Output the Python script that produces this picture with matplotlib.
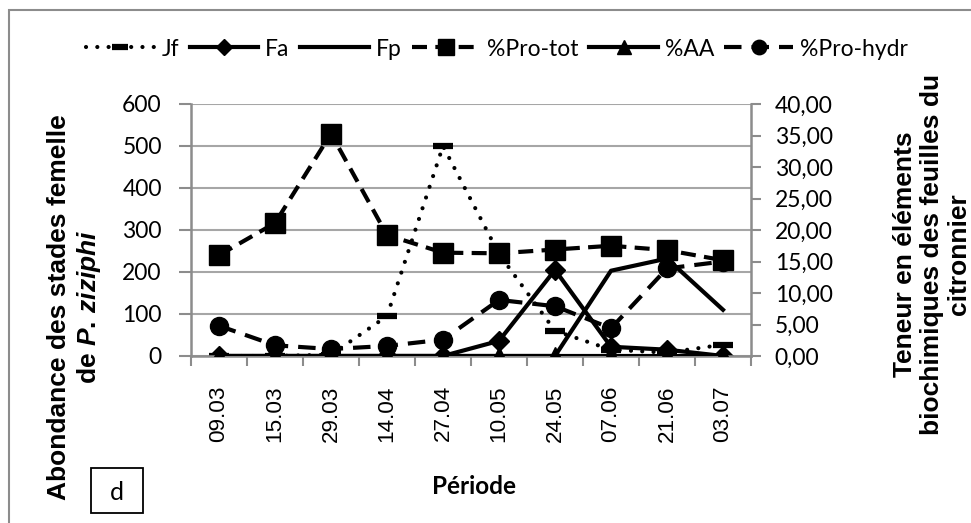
import matplotlib
matplotlib.use("Agg")
import matplotlib.pyplot as plt
from matplotlib.patches import Rectangle
from matplotlib.ticker import FuncFormatter, FixedLocator
import numpy as np

# ---- data ----
periods = ["09.03", "15.03", "29.03", "14.04", "27.04", "10.05", "24.05", "07.06", "21.06", "03.07"]
jf = [0, 0, 3, 95, 500, 243, 60, 15, 8, 27]
fa = [0, 0, 0, 0, 0, 36, 205, 22, 15, 0]
fp = [0, 0, 0, 0, 0, 0, 0, 203, 232, 110]
pro_tot = [16.0, 21.1, 35.3, 19.2, 16.4, 16.3, 16.9, 17.5, 16.8, 15.2]
aa = [0, 0, 0, 0, 0, 0, 0, 0, 0, 0]
pro_hydr = [4.8, 1.7, 1.1, 1.6, 2.6, 8.9, 7.9, 4.4, 13.9, 15.0]
left_ticks = [0, 100, 200, 300, 400, 500, 600]
right_ticks = [0, 5, 10, 15, 20, 25, 30, 35, 40]

plt.rcParams['mathtext.fontset'] = 'custom'
plt.rcParams['mathtext.it'] = 'Liberation Sans:italic:bold'
plt.rcParams['mathtext.rm'] = 'Liberation Sans:bold'
plt.rcParams['mathtext.bf'] = 'Liberation Sans:bold'

W, H = 971, 523
fig = plt.figure(figsize=(W / 100, H / 100), dpi=100)
fig.patch.set_facecolor('white')

ax_left, ax_right, ax_top, ax_bot = 191, 751, 104, 356
ax = fig.add_axes([ax_left / W, 1 - ax_bot / H, (ax_right - ax_left) / W, (ax_bot - ax_top) / H])
ax2 = ax.twinx()

x = np.arange(len(periods))
LW = 3.0
BLACK = 'black'
GRAY = '#8c8c8c'

l_jf, = ax.plot(x, jf, color=BLACK, lw=LW, linestyle=(0, (0.01, 2.7)), dash_capstyle='round',
                marker='_', markersize=14, markeredgewidth=4.5, label='Jf')
l_fa, = ax.plot(x, fa, color=BLACK, lw=LW, marker='D', markersize=10, label='Fa')
l_fp, = ax.plot(x, fp, color=BLACK, lw=LW, label='Fp')

l_pt, = ax2.plot(x, pro_tot, color=BLACK, lw=LW, dashes=(3.6, 2.0), marker='s', markersize=15, label='%Pro-tot')
l_aa, = ax2.plot(x, aa, color=BLACK, lw=LW, marker='^', markersize=13, label='%AA')
l_ph, = ax2.plot(x, pro_hydr, color=BLACK, lw=LW, dashes=(4.2, 2.4), marker='o', markersize=13, label='%Pro-hydr')

ax.set_xlim(-0.5, len(periods) - 0.5)
ax.set_ylim(0, 600)
ax2.set_ylim(0, 40)

ax.yaxis.set_major_locator(FixedLocator(left_ticks))
ax2.yaxis.set_major_locator(FixedLocator(right_ticks))
ax2.yaxis.set_major_formatter(FuncFormatter(lambda v, p: f"{v:.2f}".replace('.', ',')))

ax.grid(axis='y', color='#a6a6a6', lw=1.5)
ax.set_axisbelow(True)

ax.set_xticks(x)
ax.set_xticklabels(periods, rotation=90, fontfamily='Liberation Sans', fontsize=16.2)
ax.set_xticks(np.arange(-0.5, len(periods)), minor=True)
ax.tick_params(axis='x', which='major', length=0, pad=21)
ax.tick_params(axis='x', which='minor', length=7, width=1.5, color=GRAY, direction='out')
ax.tick_params(axis='y', length=9, width=1.5, color=GRAY, direction='out', pad=12)
ax2.tick_params(axis='y', length=7, width=1.5, color=GRAY, direction='out', pad=10)

for lbl in ax.get_yticklabels() + ax2.get_yticklabels():
    lbl.set_fontfamily('Lato')
    lbl.set_fontsize(16.5)

for a in (ax, ax2):
    a.spines['top'].set_visible(False)
    for s in ('left', 'right', 'bottom'):
        a.spines[s].set_color(GRAY)
        a.spines[s].set_linewidth(1.8)
ax2.spines['left'].set_visible(False)
ax2.spines['bottom'].set_visible(False)
ax.spines['right'].set_visible(False)

# axis titles
fig.text(75 / W, 1 - 307 / H, "Abondance des stades femelle\nde $\\mathit{P.\\,ziziphi}$",
         rotation=90, ha='center', va='center', multialignment='center',
         fontfamily='Liberation Sans', fontweight='bold', fontsize=19, linespacing=1.15)
fig.text(932 / W, 1 - 254 / H, "Teneur en éléments\nbiochimiques des feuilles du\ncitronnier",
         rotation=90, ha='center', va='center', multialignment='center',
         fontfamily='Liberation Sans', fontweight='bold', fontsize=19, linespacing=1.15)
fig.text(474 / W, 1 - 486 / H, "Période", ha='center', va='center',
         fontfamily='Lato', fontweight='bold', fontsize=17.5)

# "d" box
fig.patches.append(Rectangle((91 / W, 1 - 513 / H), 52 / W, 45 / H, transform=fig.transFigure,
                             fill=False, edgecolor='black', lw=1.3))
fig.text(117 / W, 1 - 493 / H, "d", ha='center', va='center', fontfamily='Lato', fontsize=18)

# outer chart border (left and top visible)
fig.patches.append(Rectangle((9 / W, -0.2), 1.2, 1.2 - 10 / H, transform=fig.transFigure,
                             fill=False, edgecolor='#8c8c8c', lw=1.5))

handles = [l_jf, l_fa, l_fp, l_pt, l_aa, l_ph]
fig.legend(handles, [h.get_label() for h in handles], loc='center', bbox_to_anchor=(497 / W, 1 - 49 / H),
           ncol=6, frameon=False, prop={'family': 'Lato', 'size': 16.5},
           handlelength=3.0, handletextpad=0.3, columnspacing=0.45, markerscale=0.8)

fig.savefig("out.png", dpi=100)
